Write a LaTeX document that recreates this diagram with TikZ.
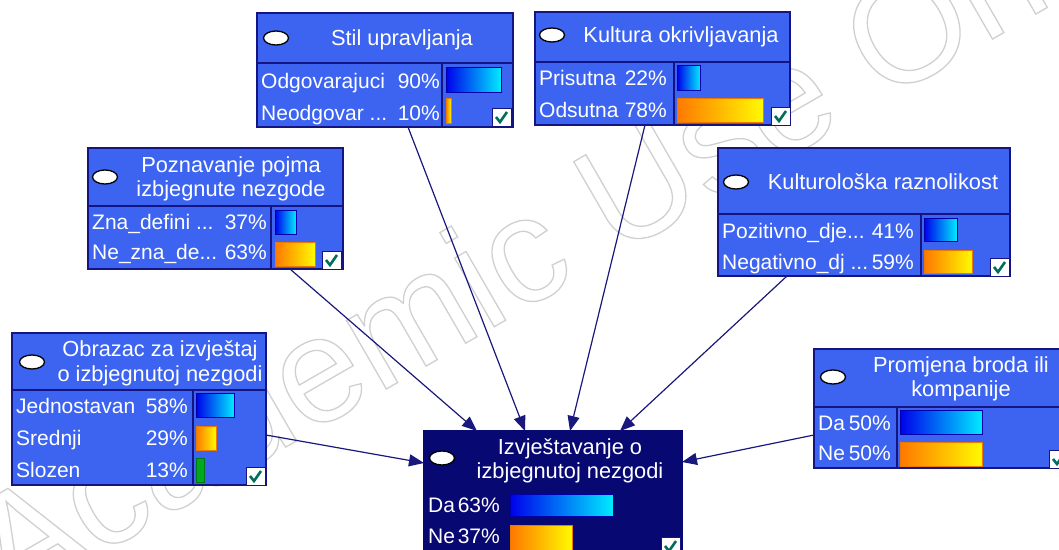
\documentclass[tikz,border=0pt]{standalone}
\usepackage{fontspec}
\setmainfont{Liberation Sans}
\usetikzlibrary{arrows.meta,calc}
\definecolor{nodeblue}{RGB}{60,100,240}
\definecolor{bordernavy}{RGB}{20,20,130}
\definecolor{tgtnavy}{RGB}{8,8,115}
\definecolor{arrownavy}{RGB}{25,25,125}
\definecolor{barblueL}{RGB}{0,0,235}
\definecolor{barblueR}{RGB}{0,235,255}
\definecolor{barblueB}{RGB}{0,0,170}
\definecolor{barorL}{RGB}{255,120,0}
\definecolor{barorR}{RGB}{255,250,0}
\definecolor{barorB}{RGB}{235,120,0}
\definecolor{bargreen}{RGB}{0,170,30}
\definecolor{checkgreen}{RGB}{0,110,90}
\definecolor{wmgray}{RGB}{208,208,208}
\newcommand\ckbox[2]{\draw[fill=white, draw=bordernavy, line width=1pt] (#1,#2) rectangle ++(19,18);
  \draw[draw=checkgreen, line width=2.6pt] (#1+4,#2+9) -- (#1+8,#2+14) -- (#1+15,#2+4);}
\newcommand\ovl[2]{\draw[draw=black, fill=white, line width=1.3pt] (#1,#2) ellipse [x radius=12.5, y radius=7];}
\begin{document}
\begin{tikzpicture}[x=1pt,y=-1pt,
  box/.style={draw=bordernavy, line width=1.6pt, fill=nodeblue, rectangle, inner sep=0pt, outer sep=0pt, anchor=north west},
  tbox/.style={box, fill=tgtnavy, draw=tgtnavy},
  ttl/.style={text=white, font=\fontsize{21.8}{24.5}\selectfont, align=center, inner sep=0pt},
  ttlone/.style={text=white, font=\fontsize{21.8}{24.5}\selectfont, anchor=base, inner sep=0pt},
  lbl/.style={text=white, font=\fontsize{21}{24}\selectfont, anchor=base west, inner sep=0pt},
  pct/.style={lbl, anchor=base east},
  sep/.style={draw=bordernavy, line width=1.6pt},
  bluebar/.style={left color=barblueL, right color=barblueR, draw=barblueB, line width=1pt},
  orbar/.style={left color=barorL, right color=barorR, draw=barorB, line width=1pt},
  grbar/.style={fill=bargreen, draw=bargreen!70!black, line width=1pt},
  conn/.style={draw=arrownavy, line width=1.2pt, -{Triangle[length=15pt,width=12pt]}},
  wm/.style={font=\fontsize{150}{155}\selectfont, rotate=30, inner sep=0pt}
]
\useasboundingbox (0,0) rectangle (1059,549);
\clip (0,0) rectangle (1059,549);
\fill[white] (0,0) rectangle (1059,549);

% watermark (outlined text)
\node[wm, text=wmgray] (wmark) at (560,244) {\special{pdf:literal direct 1 Tr 1.3 w}Academic Use Only\special{pdf:literal direct 0 Tr}};

% Stil upravljanja
\node[box, minimum width=256, minimum height=114] (stil) at (257,13) {};
\draw[sep] (257,63) -- (513,63); \draw[sep] (442,63) -- (442,127);
\ovl{276}{38}
\node[ttlone] (stilT) at (402,45.5) {Stil upravljanja};
\node[lbl] (stilA) at (261,88) {Odgovarajuci};
\node[pct] (stilAp) at (440,88) {90\%};
\node[lbl] (stilB) at (261,120) {Neodgovar ...};
\node[pct] (stilBp) at (440,120) {10\%};
\shadedraw[bluebar] (446,67) rectangle (501,92);
\shadedraw[orbar] (446,98) rectangle (451,123);
\ckbox{492}{108}

% Kultura okrivljavanja
\node[box, minimum width=255, minimum height=113] (kult) at (535,12) {};
\draw[sep] (535,62) -- (790,62); \draw[sep] (674,62) -- (674,125);
\ovl{552}{35}
\node[ttlone] (kultT) at (681,42.5) {Kultura okrivljavanja};
\node[lbl] (kultA) at (539,85.5) {Prisutna};
\node[pct] (kultAp) at (667,85.5) {22\%};
\node[lbl] (kultB) at (539,117.5) {Odsutna};
\node[pct] (kultBp) at (667,117.5) {78\%};
\shadedraw[bluebar] (677,65) rectangle (700,90);
\shadedraw[orbar] (677,98) rectangle (763,122);
\ckbox{771}{107}

% Poznavanje pojma
\node[box, minimum width=255, minimum height=121] (poz) at (88,148) {};
\draw[sep] (88,206) -- (343,206); \draw[sep] (271,206) -- (271,269);
\ovl{105}{177}
\node[ttl] (pozT) at (231,179) {Poznavanje pojma\\izbjegnute nezgode};
\node[lbl] (pozA) at (92,229.5) {Zna\_defini ...};
\node[pct] (pozAp) at (267,229.5) {37\%};
\node[lbl] (pozB) at (92,259.5) {Ne\_zna\_de...};
\node[pct] (pozBp) at (267,259.5) {63\%};
\shadedraw[bluebar] (275,210) rectangle (296,234);
\shadedraw[orbar] (275,242) rectangle (315,266);
\ckbox{322}{251}

% Kulturoloska raznolikost
\node[box, minimum width=292, minimum height=128] (kr) at (718,148) {};
\draw[sep] (718,214) -- (1010,214); \draw[sep] (921,214) -- (921,276);
\ovl{736}{182}
\node[ttlone] (krT) at (883,189.5) {Kulturološka raznolikost};
\node[lbl] (krA) at (722,238.5) {Pozitivno\_dje...};
\node[pct] (krAp) at (914,238.5) {41\%};
\node[lbl] (krB) at (722,269.5) {Negativno\_dj ...};
\node[pct] (krBp) at (914,269.5) {59\%};
\shadedraw[bluebar] (924,218) rectangle (957,241);
\shadedraw[orbar] (924,250) rectangle (972,273);
\ckbox{990}{258}

% Obrazac za izvjestaj
\node[box, minimum width=254, minimum height=152] (obr) at (12,333) {};
\draw[sep] (12,390) -- (266,390); \draw[sep] (193,390) -- (193,485);
\ovl{32}{362}
\node[ttl] (obrT) at (160,363.5) {Obrazac za izvještaj\\o izbjegnutoj nezgodi};
\node[lbl] (obrA) at (16,413.5) {Jednostavan};
\node[pct] (obrAp) at (188,413.5) {58\%};
\node[lbl] (obrB) at (16,445.5) {Srednji};
\node[pct] (obrBp) at (188,445.5) {29\%};
\node[lbl] (obrC) at (16,477.5) {Slozen};
\node[pct] (obrCp) at (188,477.5) {13\%};
\shadedraw[bluebar] (196,393) rectangle (234,417);
\shadedraw[orbar] (196,426) rectangle (216,450);
\filldraw[grbar] (196,458) rectangle (204,482);
\ckbox{246}{467}

% Promjena broda ili kompanije
\node[box, minimum width=262, minimum height=119] (prom) at (814,349) {};
\draw[sep] (814,407) -- (1076,407); \draw[sep] (897,407) -- (897,468);
\ovl{833}{377}
\node[ttl] (promT) at (961,379) {Promjena broda ili\\kompanije};
\node[lbl] (promA) at (818,430.5) {Da};
\node[pct] (promAp) at (891,430.5) {50\%};
\node[lbl] (promB) at (818,460.5) {Ne};
\node[pct] (promBp) at (891,460.5) {50\%};
\shadedraw[bluebar] (900,410) rectangle (982,434);
\shadedraw[orbar] (900,442) rectangle (982,466);
\ckbox{1049}{450}

% Izvjestavanje o izbjegnutoj nezgodi
\node[tbox, minimum width=258, minimum height=140] (tgt) at (424,431) {};
\ovl{442}{458}
\node[ttl] (tgtT) at (570,461) {Izvještavanje o\\izbjegnutoj nezgodi};
\node[lbl] (tgtA) at (428,512.5) {Da};
\node[pct] (tgtAp) at (500,512.5) {63\%};
\node[lbl] (tgtB) at (428,543.5) {Ne};
\node[pct] (tgtBp) at (500,543.5) {37\%};
\shadedraw[bluebar] (510,494) rectangle (613,516);
\shadedraw[orbar] (510,525) rectangle (572,552);
\ckbox{661}{537}

% connectors
\draw[conn] ($(poz.south west)+(202,0)$) -- ($(tgt.north west)+(53,0)$);
\draw[conn] ($(stil.south west)+(151,0)$) -- ($(tgt.north west)+(101,0)$);
\draw[conn] ($(kult.south west)+(110,0)$) -- ($(tgt.north west)+(146,0)$);
\draw[conn] ($(kr.south west)+(69,0)$) -- ($(tgt.north west)+(196,0)$);
\draw[conn] ($(obr.north east)+(0,102)$) -- ($(tgt.north west)+(0,32)$);
\draw[conn] ($(prom.north west)+(0,86)$) -- ($(tgt.north east)+(0,31)$);
\end{tikzpicture}
\end{document}
